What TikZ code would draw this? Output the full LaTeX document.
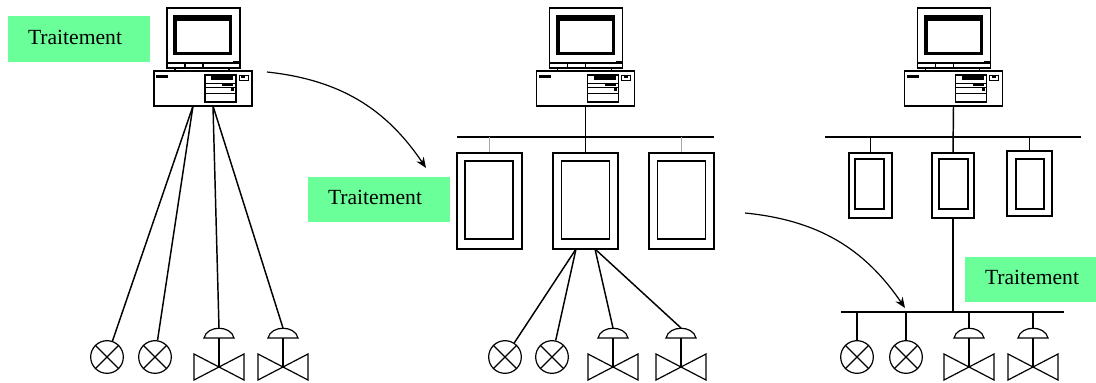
\documentclass[tikz,border=0pt]{standalone}
\usepackage{fontspec}
\setmainfont{Liberation Serif}
\usetikzlibrary{arrows.meta}
\definecolor{traitgreen}{RGB}{107,255,154}
\newcommand{\traittext}{\raisebox{3pt}{Traitement\hspace{6pt}}}

\tikzset{
 wire/.style={line width=1.1pt},
 faint/.style={line width=1.1pt,gray!70},
 curvearrow/.style={line width=0.9pt,-{Stealth[length=8pt,width=6.5pt]}},
 traitbox/.style={fill=traitgreen,minimum width=106.5pt,minimum height=34pt,inner sep=0pt,font=\fontsize{16.2}{18}\selectfont},
 framebox/.style 2 args={draw,line width=1.1pt,minimum width=#1*0.75pt,minimum height=#2*0.75pt,inner sep=0pt},
 lamp/.style={draw,circle,line width=0.9pt,minimum size=24.5pt,inner sep=0pt,
  path picture={
   \draw[line width=0.9pt] (path picture bounding box.north west) -- (path picture bounding box.south east);
   \draw[line width=0.9pt] (path picture bounding box.north east) -- (path picture bounding box.south west);}},
 pcunit/.pic={
  \draw[line width=1pt] (-36,-63) rectangle (37,-3);
  \fill (-30,-56) rectangle (29,-16);
  \fill[white] (-26,-50) rectangle (26,-19);
  \draw[line width=0.8pt] (-36,-8) -- (37,-8);
  \draw[line width=0.8pt] (-18,-8) -- (-18,-3);
  \draw[line width=0.8pt] (0,-8) -- (0,-3);
  \fill (30,-10) rectangle (36,-8);
  \draw[line width=0.8pt] (-28,-3) -- (-28,0);
  \draw[line width=0.8pt] (26,-3) -- (26,0);
  \draw[line width=1pt] (-49,0) rectangle (49,35);
  \fill (-47,4) rectangle (-35,7);
  \draw[line width=1pt] (2,4) rectangle (33,31);
  \fill (8,5) rectangle (30,9);
  \draw[line width=0.7pt] (2,12) -- (33,12);
  \draw[line width=0.7pt] (2,16) -- (33,16);
  \draw[line width=0.7pt] (2,22) -- (33,22);
  \fill (19,13) rectangle (30,15);
  \fill (28,16) rectangle (31,20);
  \draw[line width=0.7pt] (36,4) rectangle (45,9);
  \fill (38,5) rectangle (42,7);
  \coordinate (-out) at (0,35);
  \coordinate (-outl) at (-10,35);
  \coordinate (-outr) at (10,35);
 },
 valve/.pic={
  \draw[line width=0.9pt] (-15,10) .. controls (-12,-3) and (12,-3) .. (15,10) -- cycle;
  \draw[line width=1.1pt] (0,10) -- (0,39);
  \draw[line width=0.9pt] (-25,26) -- (25,52) -- (25,26) -- (-25,52) -- cycle;
  \coordinate (-top) at (0,0);
 },
}

\begin{document}
\begin{tikzpicture}[x=0.75pt,y=-0.75pt]
\useasboundingbox (0,0) rectangle (1096,382);
% first column
\pic (pca) at (203,71) {pcunit};
\node[traitbox] (traita) at (79,39) {\traittext};
\node[lamp] (lampa) at (107,357) {};
\node[lamp] (lampb) at (155,357) {};
\pic (valvea) at (219,328) {valve};
\pic (valveb) at (283,328) {valve};
\draw[wire] (pca-outl) -- (lampa);
\draw[wire] (pca-outl) -- (lampb);
\draw[wire] (pca-outr) -- (valvea-top);
\draw[wire] (pca-outr) -- (valveb-top);
% second column
\pic (pcb) at (585.5,71) {pcunit};
\node[traitbox] (traitb) at (379,199.5) {\traittext};
\coordinate (busbl) at (457,137);
\coordinate (busbr) at (714,137);
\node[framebox={65}{96}] (plca) at (489.5,201) {};
\node[framebox={65}{96}] (plcb) at (585.5,201) {};
\node[framebox={65}{96}] (plcc) at (681.5,201) {};
\node[framebox={48}{78}] (plcain) at (489,200) {};
\node[framebox={48}{78}] (plcbin) at (585.5,200) {};
\node[framebox={48}{78}] (plccin) at (681.5,200) {};
\draw[wire] (busbl) -- (busbr);
\draw[wire] (pcb-out) -- (plcb.north);
\draw[faint] (plca.north) -- (plca.north |- busbl);
\draw[faint] (plcc.north) -- (plcc.north |- busbl);
\coordinate (plcbl) at (576,249);
\coordinate (plcbr) at (595,249);
\node[lamp] (lampc) at (505,357) {};
\node[lamp] (lampd) at (552,357) {};
\pic (valvec) at (613,328) {valve};
\pic (valved) at (681,328) {valve};
\draw[wire] (plcbl) -- (lampc);
\draw[wire] (plcbl) -- (lampd);
\draw[wire] (plcbr) -- (valvec-top);
\draw[wire] (plcbr) -- (valved-top);
% third column
\pic (pcc) at (953.5,71) {pcunit};
\node[traitbox] (traitc) at (1036,279.5) {\traittext};
\coordinate (buscl) at (825,137);
\coordinate (buscr) at (1081,137);
\node[framebox={43}{65}] (plcd) at (870.5,185.5) {};
\node[framebox={42}{65}] (plce) at (953,185.5) {};
\node[framebox={45}{65}] (plcf) at (1029.5,183.5) {};
\node[framebox={29}{50}] (plcdin) at (869.5,184) {};
\node[framebox={29}{50}] (plcein) at (953.5,184) {};
\node[framebox={28}{50}] (plcfin) at (1030,184) {};
\draw[wire] (buscl) -- (buscr);
\draw[wire] (pcc-out) -- (plce.north);
\draw[wire] (plcd.north) -- (plcd.north |- buscl);
\draw[wire] (plcf.north) -- (plcf.north |- buscl);
\coordinate (busdl) at (841,312);
\coordinate (busdr) at (1064,312);
\draw[wire] (busdl) -- (busdr);
\draw[wire] (plce.south) -- (plce.south |- busdl);
\node[lamp] (lampe) at (857,357) {};
\node[lamp] (lampf) at (906,357) {};
\pic (valvee) at (969,328) {valve};
\pic (valvef) at (1033,328) {valve};
\draw[wire] (lampe.north) -- (lampe.north |- busdl);
\draw[wire] (lampf.north) -- (lampf.north |- busdl);
\draw[wire] (valvee-top) -- (valvee-top |- busdl);
\draw[wire] (valvef-top) -- (valvef-top |- busdl);
% arrows
\coordinate (arrowa) at (267,72);
\coordinate (arrowb) at (426,168);
\coordinate (arrowc) at (745,213);
\coordinate (arrowd) at (905,308);
\draw[curvearrow] (arrowa) to[bend left=25] (arrowb);
\draw[curvearrow] (arrowc) to[bend left=25] (arrowd);
\end{tikzpicture}
\end{document}
